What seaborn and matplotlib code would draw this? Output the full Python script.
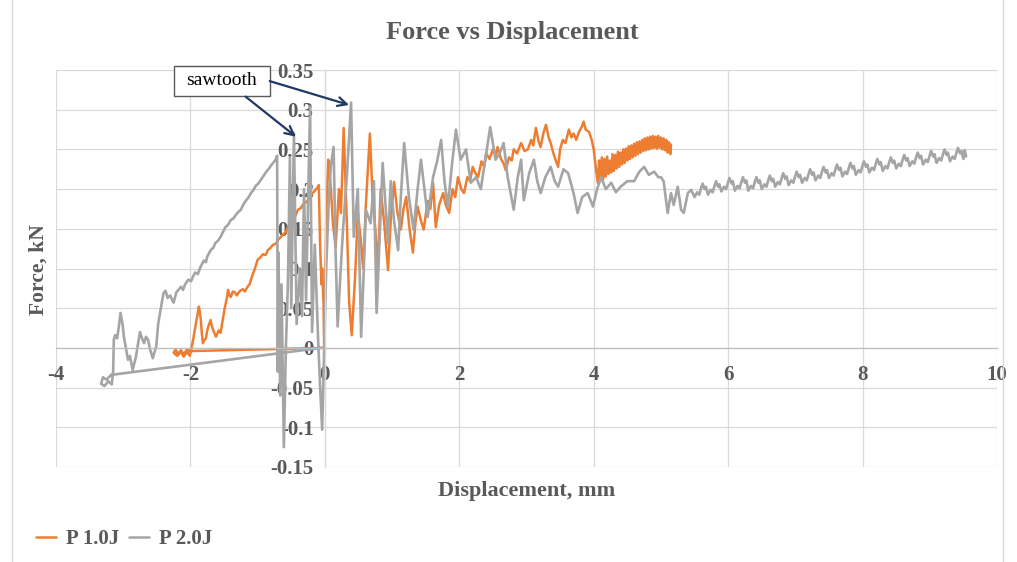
import matplotlib
matplotlib.use("Agg")
import matplotlib.pyplot as plt
import seaborn as sns
import pandas as pd
from matplotlib.lines import Line2D
from matplotlib.patches import Rectangle

# ---------------- data ----------------
series_names = ["P 1.0J", "P 2.0J"]
series_colors = ["#ED7D31", "#A5A5A5"]

# P 1.0J : (displacement mm, force kN)
p1_points = [
    (-0.02, 0.0), (-2.00, -0.004), (-2.05, -0.002), (-2.10, -0.008), (-2.14, -0.003), (-2.18, -0.009),
    (-2.22, -0.002), (-2.25, -0.006), (-2.20, -0.010), (-2.15, -0.004), (-2.10, -0.011), (-2.05, -0.005),
    (-2.01, -0.010), (-1.99, -0.003), (-1.96, 0.010), (-1.92, 0.030), (-1.90, 0.040), (-1.875, 0.052),
    (-1.86, 0.045), (-1.845, 0.035), (-1.83, 0.018), (-1.815, 0.006), (-1.79, 0.010), (-1.77, 0.012),
    (-1.75, 0.022), (-1.73, 0.028), (-1.70, 0.035), (-1.68, 0.027), (-1.65, 0.020), (-1.62, 0.014),
    (-1.60, 0.018), (-1.58, 0.022), (-1.55, 0.019), (-1.52, 0.035), (-1.49, 0.050), (-1.46, 0.062),
    (-1.44, 0.073), (-1.42, 0.066), (-1.40, 0.064), (-1.37, 0.071), (-1.34, 0.070), (-1.31, 0.066),
    (-1.29, 0.069), (-1.26, 0.072), (-1.22, 0.074), (-1.19, 0.071), (-1.15, 0.077), (-1.12, 0.080),
    (-1.10, 0.086), (-1.07, 0.093), (-1.04, 0.100), (-1.00, 0.111), (-0.96, 0.114), (-0.92, 0.118),
    (-0.88, 0.117), (-0.85, 0.123), (-0.81, 0.126), (-0.77, 0.130), (-0.73, 0.131), (-0.70, 0.136),
    (-0.66, 0.139), (-0.625, 0.143), (-0.59, 0.145), (-0.55, 0.152), (-0.51, 0.157), (-0.475, 0.163),
    (-0.44, 0.166), (-0.40, 0.174), (-0.36, 0.176), (-0.33, 0.180), (-0.29, 0.183), (-0.25, 0.186),
    (-0.21, 0.191), (-0.18, 0.195), (-0.14, 0.199), (-0.10, 0.203), (-0.09, 0.205),
    (-0.07, 0.127), (-0.05, 0.080), (-0.04, 0.100), (-0.02, 0.057), (-0.01, 0.0), (0.02, 0.160),
    (0.05, 0.237), (0.07, 0.220), (0.09, 0.200), (0.12, 0.157), (0.16, 0.127), (0.21, 0.200),
    (0.24, 0.170), (0.28, 0.277), (0.33, 0.150), (0.36, 0.060), (0.40, 0.016), (0.45, 0.090),
    (0.49, 0.170), (0.53, 0.140), (0.57, 0.100), (0.61, 0.180), (0.67, 0.270), (0.71, 0.190),
    (0.76, 0.140), (0.79, 0.098), (0.83, 0.200), (0.88, 0.160), (0.94, 0.098), (0.98, 0.160),
    (1.03, 0.209), (1.08, 0.170), (1.13, 0.149), (1.17, 0.175), (1.21, 0.190), (1.26, 0.150),
    (1.31, 0.120), (1.35, 0.160), (1.38, 0.178), (1.43, 0.160), (1.47, 0.149), (1.53, 0.185),
    (1.57, 0.175), (1.61, 0.208), (1.65, 0.152), (1.70, 0.180), (1.76, 0.195), (1.80, 0.180),
    (1.85, 0.170), (1.90, 0.200), (1.94, 0.190), (1.98, 0.215), (2.03, 0.200), (2.07, 0.195),
    (2.12, 0.215), (2.16, 0.210), (2.20, 0.228), (2.24, 0.220), (2.28, 0.215), (2.33, 0.235),
    (2.37, 0.228), (2.40, 0.245), (2.45, 0.238), (2.50, 0.250), (2.54, 0.242), (2.57, 0.253),
    (2.62, 0.238), (2.66, 0.232), (2.69, 0.224), (2.74, 0.240), (2.78, 0.236), (2.81, 0.250),
    (2.86, 0.245), (2.92, 0.258), (2.97, 0.248), (3.02, 0.250), (3.07, 0.262), (3.10, 0.255),
    (3.14, 0.277), (3.18, 0.260), (3.21, 0.253), (3.25, 0.270), (3.29, 0.281), (3.33, 0.265),
    (3.36, 0.258), (3.40, 0.245), (3.44, 0.235), (3.47, 0.228), (3.50, 0.250), (3.54, 0.262),
    (3.58, 0.258), (3.63, 0.275), (3.67, 0.265), (3.70, 0.270), (3.74, 0.262), (3.78, 0.272),
    (3.82, 0.278), (3.85, 0.285), (3.88, 0.275), (3.93, 0.272), (3.97, 0.262), (4.00, 0.250),
    (4.03, 0.228), (4.06, 0.208), (4.08, 0.236), (4.10, 0.214), (4.12, 0.240), (4.14, 0.212),
    (4.16, 0.238), (4.18, 0.216), (4.20, 0.241), (4.22, 0.219), (4.24, 0.236), (4.26, 0.221),
    (4.28, 0.244), (4.30, 0.223), (4.32, 0.243), (4.34, 0.226), (4.36, 0.247), (4.38, 0.228),
    (4.40, 0.246), (4.42, 0.231), (4.44, 0.250), (4.46, 0.233), (4.48, 0.251), (4.50, 0.236),
    (4.52, 0.254), (4.54, 0.238), (4.56, 0.255), (4.58, 0.240), (4.60, 0.257), (4.62, 0.242),
    (4.64, 0.259), (4.66, 0.244), (4.68, 0.260), (4.70, 0.246), (4.72, 0.262), (4.74, 0.248),
    (4.76, 0.264), (4.78, 0.249), (4.80, 0.265), (4.82, 0.250), (4.84, 0.266), (4.86, 0.251),
    (4.88, 0.267), (4.90, 0.252), (4.92, 0.266), (4.94, 0.251), (4.96, 0.267), (4.98, 0.252),
    (5.00, 0.265), (5.02, 0.250), (5.04, 0.264), (5.06, 0.249), (5.08, 0.262), (5.10, 0.246),
    (5.12, 0.259), (5.14, 0.244), (5.15, 0.256),
]

# P 2.0J : (displacement mm, force kN)
p2_points = [
    (-0.06, 0.0), (-3.18, -0.034), (-3.25, -0.040), (-3.30, -0.037), (-3.33, -0.045), (-3.28, -0.048),
    (-3.22, -0.042), (-3.17, -0.046), (-3.15, -0.030), (-3.14, 0.010), (-3.12, 0.016), (-3.09, 0.012),
    (-3.06, 0.030), (-3.04, 0.044), (-3.01, 0.030), (-2.99, 0.014), (-2.96, 0.0), (-2.93, -0.015),
    (-2.90, -0.010), (-2.86, -0.028), (-2.83, -0.018), (-2.81, -0.011), (-2.78, 0.005), (-2.75, 0.020),
    (-2.72, 0.012), (-2.69, 0.006), (-2.66, 0.014), (-2.63, 0.010), (-2.60, -0.002), (-2.56, -0.013),
    (-2.53, -0.004), (-2.51, 0.001), (-2.48, 0.030), (-2.45, 0.045), (-2.42, 0.060), (-2.40, 0.069),
    (-2.37, 0.072), (-2.34, 0.063), (-2.30, 0.066), (-2.27, 0.060), (-2.25, 0.057), (-2.21, 0.070),
    (-2.17, 0.074), (-2.14, 0.077), (-2.11, 0.073), (-2.08, 0.080), (-2.03, 0.086), (-1.99, 0.084),
    (-1.96, 0.090), (-1.93, 0.095), (-1.89, 0.093), (-1.85, 0.102), (-1.80, 0.110), (-1.77, 0.108),
    (-1.75, 0.115), (-1.70, 0.123), (-1.66, 0.126), (-1.63, 0.132), (-1.59, 0.135), (-1.55, 0.140),
    (-1.51, 0.147), (-1.48, 0.152), (-1.44, 0.155), (-1.40, 0.161), (-1.36, 0.163), (-1.33, 0.167),
    (-1.29, 0.171), (-1.25, 0.174), (-1.21, 0.181), (-1.18, 0.185), (-1.14, 0.189), (-1.10, 0.195),
    (-1.06, 0.199), (-1.03, 0.204), (-0.99, 0.207), (-0.95, 0.212), (-0.91, 0.217), (-0.87, 0.222),
    (-0.83, 0.226), (-0.80, 0.230), (-0.77, 0.233), (-0.74, 0.236), (-0.71, 0.242),
    (-0.70, -0.030), (-0.69, 0.120), (-0.665, -0.060), (-0.645, 0.080), (-0.61, -0.125), (-0.58, 0.0),
    (-0.55, 0.080), (-0.52, 0.240), (-0.50, 0.050), (-0.46, 0.270), (-0.42, 0.030), (-0.37, 0.100),
    (-0.34, 0.040), (-0.31, 0.200), (-0.28, 0.060), (-0.22, 0.304), (-0.19, 0.020), (-0.15, 0.130),
    (-0.10, 0.010), (-0.07, -0.050), (-0.04, -0.103), (-0.01, 0.0), (0.02, 0.100), (0.06, 0.190),
    (0.09, 0.230), (0.13, 0.253), (0.16, 0.120), (0.19, 0.027), (0.23, 0.090), (0.27, 0.149),
    (0.33, 0.220), (0.39, 0.309), (0.43, 0.140), (0.49, 0.200), (0.54, 0.014), (0.58, 0.100),
    (0.61, 0.174), (0.68, 0.157), (0.73, 0.210), (0.77, 0.044), (0.82, 0.150), (0.86, 0.233),
    (0.94, 0.132), (0.98, 0.210), (1.03, 0.160), (1.09, 0.123), (1.13, 0.190), (1.18, 0.258),
    (1.25, 0.190), (1.32, 0.149), (1.38, 0.200), (1.43, 0.237), (1.53, 0.165), (1.61, 0.215),
    (1.67, 0.235), (1.73, 0.262), (1.78, 0.210), (1.83, 0.178), (1.89, 0.230), (1.95, 0.275),
    (2.02, 0.237), (2.10, 0.250), (2.17, 0.208), (2.25, 0.215), (2.32, 0.200), (2.40, 0.245),
    (2.46, 0.278), (2.54, 0.237), (2.60, 0.245), (2.66, 0.258), (2.72, 0.215), (2.81, 0.174),
    (2.87, 0.215), (2.92, 0.237), (2.96, 0.186), (3.04, 0.220), (3.11, 0.237), (3.16, 0.210),
    (3.21, 0.195), (3.28, 0.215), (3.36, 0.228), (3.42, 0.210), (3.47, 0.203), (3.55, 0.225),
    (3.62, 0.220), (3.70, 0.195), (3.76, 0.170), (3.83, 0.190), (3.91, 0.195), (3.99, 0.178),
    (4.05, 0.200), (4.11, 0.215), (4.18, 0.200), (4.26, 0.208), (4.33, 0.196), (4.40, 0.203),
    (4.50, 0.210), (4.60, 0.210), (4.68, 0.222), (4.75, 0.228), (4.82, 0.218), (4.90, 0.222),
    (4.96, 0.215), (5.00, 0.215), (5.04, 0.210), (5.10, 0.170), (5.15, 0.195), (5.19, 0.180),
    (5.25, 0.203), (5.30, 0.174), (5.34, 0.170), (5.40, 0.195), (5.45, 0.199),
    (5.50, 0.190), (5.54, 0.196), (5.57, 0.193), (5.60, 0.202), (5.62, 0.207), (5.65, 0.200), (5.67, 0.203),
    (5.70, 0.193), (5.74, 0.199), (5.77, 0.196), (5.80, 0.205), (5.82, 0.210), (5.85, 0.203), (5.87, 0.206),
    (5.90, 0.197), (5.94, 0.203), (5.97, 0.200), (6.00, 0.209), (6.02, 0.214), (6.05, 0.207), (6.07, 0.210),
    (6.10, 0.198), (6.14, 0.204), (6.17, 0.201), (6.20, 0.210), (6.22, 0.215), (6.25, 0.208), (6.27, 0.211),
    (6.30, 0.198), (6.34, 0.204), (6.37, 0.201), (6.40, 0.210), (6.42, 0.215), (6.45, 0.208), (6.47, 0.211),
    (6.50, 0.200), (6.54, 0.206), (6.57, 0.203), (6.60, 0.212), (6.62, 0.217), (6.65, 0.210), (6.67, 0.213),
    (6.70, 0.203), (6.74, 0.209), (6.77, 0.206), (6.80, 0.215), (6.82, 0.220), (6.85, 0.213), (6.87, 0.216),
    (6.90, 0.205), (6.94, 0.211), (6.97, 0.208), (7.00, 0.217), (7.02, 0.222), (7.05, 0.215), (7.07, 0.218),
    (7.10, 0.208), (7.14, 0.214), (7.17, 0.211), (7.20, 0.220), (7.22, 0.225), (7.25, 0.218), (7.27, 0.221),
    (7.30, 0.211), (7.34, 0.217), (7.37, 0.214), (7.40, 0.223), (7.42, 0.228), (7.45, 0.221), (7.47, 0.224),
    (7.50, 0.214), (7.54, 0.220), (7.57, 0.217), (7.60, 0.226), (7.62, 0.231), (7.65, 0.224), (7.67, 0.227),
    (7.70, 0.216), (7.74, 0.222), (7.77, 0.219), (7.80, 0.228), (7.82, 0.233), (7.85, 0.226), (7.87, 0.229),
    (7.90, 0.218), (7.94, 0.224), (7.97, 0.221), (8.00, 0.230), (8.02, 0.235), (8.05, 0.228), (8.07, 0.231),
    (8.10, 0.221), (8.14, 0.227), (8.17, 0.224), (8.20, 0.233), (8.22, 0.238), (8.25, 0.231), (8.27, 0.234),
    (8.30, 0.223), (8.34, 0.229), (8.37, 0.226), (8.40, 0.235), (8.42, 0.240), (8.45, 0.233), (8.47, 0.236),
    (8.50, 0.226), (8.54, 0.232), (8.57, 0.229), (8.60, 0.238), (8.62, 0.243), (8.65, 0.236), (8.67, 0.239),
    (8.70, 0.229), (8.74, 0.235), (8.77, 0.232), (8.80, 0.241), (8.82, 0.246), (8.85, 0.239), (8.87, 0.242),
    (8.90, 0.231), (8.94, 0.237), (8.97, 0.234), (9.00, 0.243), (9.02, 0.248), (9.05, 0.241), (9.07, 0.244),
    (9.10, 0.233), (9.14, 0.239), (9.17, 0.236), (9.20, 0.245), (9.22, 0.250), (9.25, 0.243), (9.27, 0.246),
    (9.30, 0.235), (9.34, 0.241), (9.37, 0.238), (9.40, 0.247), (9.42, 0.252), (9.45, 0.245), (9.47, 0.248),
    (9.50, 0.238), (9.52, 0.249), (9.54, 0.241),
]

x_ticks = [-4, -2, 0, 2, 4, 6, 8, 10]
y_ticks = [-0.15, -0.1, -0.05, 0, 0.05, 0.1, 0.15, 0.2, 0.25, 0.3, 0.35]
y_tick_labels = ["-0.15", "-0.1", "-0.05", "0", "0.05", "0.1", "0.15", "0.2", "0.25", "0.3", "0.35"]
x_tick_labels = ["-4", "-2", "0", "2", "4", "6", "8", "10"]

title = "Force vs Displacement"
x_label = "Displacement, mm"
y_label = "Force, kN"
note_text = "sawtooth"

# ---------------- figure ----------------
sns.set_theme(style="white")
plt.rcParams["font.family"] = ["Liberation Serif", "DejaVu Serif"]

TXT = "#595959"
fig = plt.figure(figsize=(10.17, 5.62), dpi=100)
ax = fig.add_axes([56 / 1017, 1 - 467 / 562, (997 - 56) / 1017, (467 - 70) / 562])

frames = []
for name, pts in zip(series_names, [p1_points, p2_points]):
    d = pd.DataFrame(pts, columns=["disp", "force"])
    d["series"] = name
    frames.append(d)

for name, color, d, lw in zip(series_names, series_colors, frames, [1.8, 1.9]):
    sns.lineplot(data=d, x="disp", y="force", sort=False, estimator=None,
                 color=color, lw=lw, ax=ax, legend=False, zorder=2)

ax.set_xlim(-4, 10)
ax.set_ylim(-0.15, 0.35)
ax.set_xticks(x_ticks)
ax.set_xticklabels(x_tick_labels)
ax.set_yticks(y_ticks)
ax.set_yticklabels(y_tick_labels)
ax.set_xlabel("")
ax.set_ylabel("")
ax.grid(True, color="#D9D9D9", lw=0.9)
ax.set_axisbelow(True)

for s in ["top", "right"]:
    ax.spines[s].set_visible(False)
ax.spines["left"].set_position(("data", 0))
ax.spines["bottom"].set_position(("data", 0))
ax.spines["left"].set_color("#D9D9D9")
ax.spines["bottom"].set_color("#BFBFBF")
ax.spines["left"].set_linewidth(0.9)
ax.spines["bottom"].set_linewidth(0.9)

ax.tick_params(axis="both", length=0, labelsize=15, labelcolor=TXT)
ax.tick_params(axis="x", pad=12)
ax.tick_params(axis="y", pad=8)
for lab in ax.get_xticklabels() + ax.get_yticklabels():
    lab.set_fontweight("bold")

# titles
fig.text(0.504, 1 - 33 / 562, title, ha="center", va="center", fontsize=19,
         fontweight="bold", color=TXT)
fig.text(527 / 1017, 1 - 491 / 562, x_label, ha="center", va="center", fontsize=16,
         fontweight="bold", color=TXT)
fig.text(39 / 1017, 1 - 270 / 562, y_label, ha="center", va="center", fontsize=15.5,
         fontweight="bold", color=TXT, rotation=90)

# annotation box + arrows
ax.add_patch(Rectangle((-2.247, 0.3174), 1.429, 0.0378, facecolor="white",
                       edgecolor="#595959", lw=1.0, clip_on=False, zorder=5))
ax.text(-1.533, 0.3365, note_text, ha="center", va="center", fontsize=14,
        color="black", zorder=6)
arrow_kw = dict(arrowstyle="->", color="#1F3864", lw=1.6, mutation_scale=16,
                shrinkA=0, shrinkB=0)
ax.annotate("", xy=(0.36, 0.306), xytext=(-0.82, 0.336), arrowprops=arrow_kw,
            annotation_clip=False, zorder=6)
ax.annotate("", xy=(-0.43, 0.266), xytext=(-1.18, 0.3165), arrowprops=arrow_kw,
            annotation_clip=False, zorder=6)

# legend
handles = [Line2D([0], [0], color=c, lw=1.8) for c in series_colors]
leg = fig.legend(handles, series_names, loc="center left",
                 bbox_to_anchor=(36 / 1017, 1 - 539 / 562), ncol=2, frameon=False,
                 borderpad=0, borderaxespad=0,
                 handlelength=0.95, handletextpad=0.5, columnspacing=0.45,
                 prop={"family": ["Liberation Serif"], "weight": "bold", "size": 15})
for t in leg.get_texts():
    t.set_color(TXT)

# chart border lines
fig.add_artist(Line2D([12 / 1017, 12 / 1017], [0, 1], color="#D9D9D9", lw=1.0))
fig.add_artist(Line2D([1003 / 1017, 1003 / 1017], [0, 1], color="#D9D9D9", lw=1.0))

fig.savefig("out.png", dpi=100)
